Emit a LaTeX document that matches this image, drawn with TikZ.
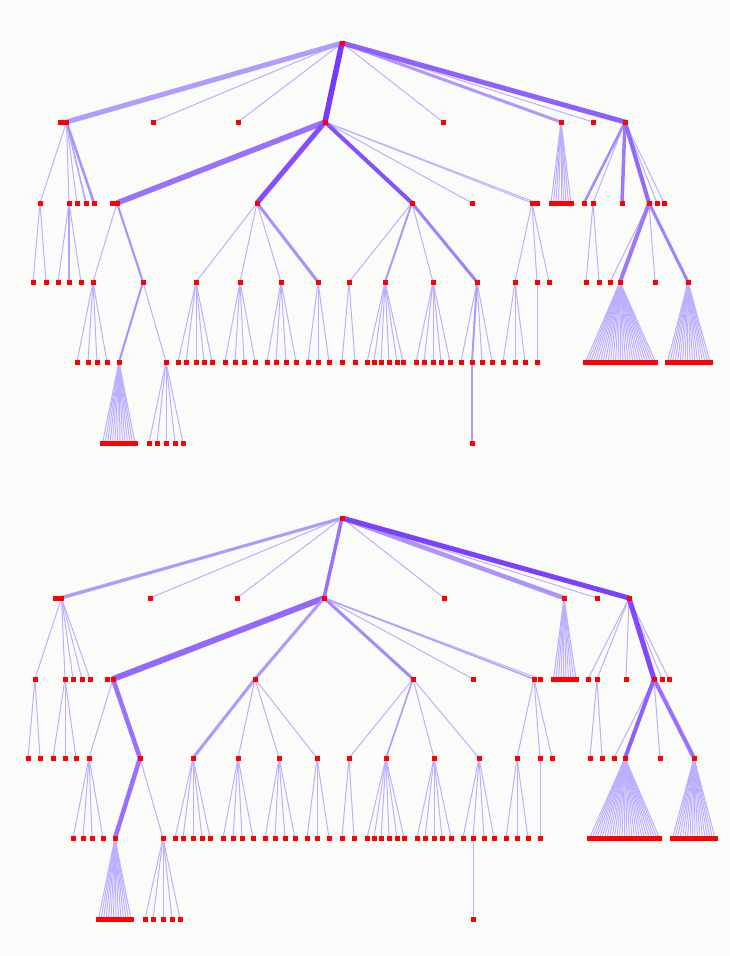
\documentclass[tikz,border=0pt]{standalone}
\usepackage{xcolor}
\usepackage{tikz}

\definecolor{paper}{RGB}{250,252,250}
\definecolor{linkhi}{RGB}{110,40,255}
\definecolor{linklo}{RGB}{205,200,255}

\pgfdeclarelayer{links}
\pgfsetlayers{links,main}

% children of #1, named #2<i>, on row #3, at the x values #4;
% their links are collected in \linklist and drawn later
\gdef\linklist{}
\newcommand{\fanout}[4]{%
  \foreach \x [count=\i] in {#4} {
    \node[pt] (#2\i) at (\x,#3) {};
    \xdef\linklist{\unexpanded\expandafter{\linklist}%
      \noexpand\draw[ln] (#1.center) -- (#2\i.center);}
  }}

\begin{document}
\begin{tikzpicture}[x=1pt, y=-1pt,
    pt/.style={rectangle, fill=red, inner sep=0pt, minimum size=5pt},
    lk/.style 2 args={line width=#1pt, draw=linkhi!#2!linklo},
    ln/.style={lk={1}{16}}]

  % upper tree
  \node[pt] (a0) at (342,43) {};
  \fanout{a0}{a1-}{122}{60.5,63.5,66.5,153,238,325,443,561,593,625}

  \fanout{a1-3}{a2a-}{203}{40,69,77,86,94}
  \fanout{a1-6}{a2f-}{203}{112,117,257,412,472,532,537}
  \fanout{a1-8}{a2h-}{203}{551,553.5,...,571}
  \fanout{a1-10}{a2j-}{203}{584,593,622,649,657,664}

  \fanout{a2a-1}{a3a-}{282}{33,46}
  \fanout{a2a-2}{a3b-}{282}{58,69,81}
  \fanout{a2f-2}{a3g-}{282}{93,143}
  \fanout{a2f-3}{a3h-}{282}{196,240,281,318}
  \fanout{a2f-4}{a3i-}{282}{349,385,433,477}
  \fanout{a2f-6}{a3k-}{282}{515,537,549}
  \fanout{a2j-2}{a3o-}{282}{586,599}
  \fanout{a2j-4}{a3q-}{282}{610,620,655,688}

  \fanout{a3g-1}{a4a-}{362}{77,88,97,107}
  \fanout{a3g-2}{a4b-}{362}{119,166}
  \fanout{a3h-1}{a4c-}{362}{178,186,196,204,212}
  \fanout{a3h-2}{a4d-}{362}{225,235,244,255}
  \fanout{a3h-3}{a4e-}{362}{267,276,286,296}
  \fanout{a3h-4}{a4f-}{362}{308,318,329}
  \fanout{a3i-1}{a4g-}{362}{342,355}
  \fanout{a3i-2}{a4h-}{362}{367,374,381,389,397,403}
  \fanout{a3i-3}{a4i-}{362}{416,424,433,441,450}
  \fanout{a3i-4}{a4j-}{362}{461,472,482,492}
  \fanout{a3k-1}{a4k-}{362}{503,515,525}
  \fanout{a3k-2}{a4l-}{362}{537}
  \fanout{a3q-2}{a4m-}{362}{585.5,588,...,655.5}
  \fanout{a3q-4}{a4n-}{362}{667.5,670,...,710}

  \fanout{a4b-1}{a5a-}{443}{102.5,105,...,135.5}
  \fanout{a4b-2}{a5b-}{443}{149,157,166,175,183}
  \fanout{a4j-2}{a5c-}{443}{472}

  % lower tree
  \node[pt] (b0) at (342,518) {};
  \fanout{b0}{b1-}{598}{55.5,58.5,61.5,150,237,324,444,564,597,629}

  \fanout{b1-3}{b2a-}{679}{35,65,73,82,90}
  \fanout{b1-6}{b2f-}{679}{107,113,255,413,473,534,540}
  \fanout{b1-8}{b2h-}{679}{553.5,556,...,576}
  \fanout{b1-10}{b2j-}{679}{588,597,626,654,662,669}

  \fanout{b2a-1}{b3a-}{758}{28,40}
  \fanout{b2a-2}{b3b-}{758}{53,65,76}
  \fanout{b2f-2}{b3g-}{758}{89,140}
  \fanout{b2f-3}{b3h-}{758}{193,238,279,317}
  \fanout{b2f-4}{b3i-}{758}{349,386,434,479}
  \fanout{b2f-6}{b3k-}{758}{517,540,552}
  \fanout{b2j-2}{b3o-}{758}{590,602}
  \fanout{b2j-4}{b3q-}{758}{614,625,660,694}

  \fanout{b3g-1}{b4a-}{838}{73,83,92,103}
  \fanout{b3g-2}{b4b-}{838}{115,163}
  \fanout{b3h-1}{b4c-}{838}{175,183,193,202,210}
  \fanout{b3h-2}{b4d-}{838}{223,233,242,253}
  \fanout{b3h-3}{b4e-}{838}{265,275,285,295}
  \fanout{b3h-4}{b4f-}{838}{307,317,329}
  \fanout{b3i-1}{b4g-}{838}{342,354}
  \fanout{b3i-2}{b4h-}{838}{367,374,381,389,397,404}
  \fanout{b3i-3}{b4i-}{838}{417,425,434,442,451}
  \fanout{b3i-4}{b4j-}{838}{463,473,484,494}
  \fanout{b3k-1}{b4k-}{838}{506,517,528}
  \fanout{b3k-2}{b4l-}{838}{540}
  \fanout{b3q-2}{b4m-}{838}{589.5,592,...,659.5}
  \fanout{b3q-4}{b4n-}{838}{672.5,675,...,715}

  \fanout{b4b-1}{b5a-}{919}{98.5,101,...,132.5}
  \fanout{b4b-2}{b5b-}{919}{145,153,163,172,180}
  \fanout{b4j-2}{b5c-}{919}{473}

  \begin{pgfonlayer}{links}
    \fill[paper] (0,0) rectangle (730,956);
    \linklist

    % heavier links on top of the thin ones
    \draw[lk={5}{28}] (a0.center) -- (a1-3.center);
    \draw[lk={5.5}{90}] (a0.center) -- (a1-6.center);
    \draw[lk={3}{30}] (a0.center) -- (a1-8.center);
    \draw[lk={5}{65}] (a0.center) -- (a1-10.center);
    \draw[lk={1.5}{22}] (a1-3.center) -- (a2a-4.center);
    \draw[lk={2.5}{35}] (a1-3.center) -- (a2a-5.center);
    \draw[lk={5.5}{55}] (a1-6.center) -- (a2f-2.center);
    \draw[lk={5}{77}] (a1-6.center) -- (a2f-3.center);
    \draw[lk={4}{75}] (a1-6.center) -- (a2f-4.center);
    \draw[lk={2.5}{40}] (a1-10.center) -- (a2j-1.center);
    \draw[lk={3.5}{50}] (a1-10.center) -- (a2j-3.center);
    \draw[lk={4}{60}] (a1-10.center) -- (a2j-4.center);
    \draw[lk={1.5}{25}] (a2a-2.center) -- (a3b-2.center);
    \draw[lk={2}{35}] (a2f-2.center) -- (a3g-2.center);
    \draw[lk={3}{35}] (a2f-3.center) -- (a3h-4.center);
    \draw[lk={2}{30}] (a2f-4.center) -- (a3i-2.center);
    \draw[lk={3}{45}] (a2f-4.center) -- (a3i-4.center);
    \draw[lk={4}{50}] (a2j-4.center) -- (a3q-2.center);
    \draw[lk={3}{45}] (a2j-4.center) -- (a3q-4.center);
    \draw[lk={2}{35}] (a3g-2.center) -- (a4b-1.center);
    \draw[lk={2}{30}] (a3i-4.center) -- (a4j-2.center);
    \draw[lk={2}{30}] (a4j-2.center) -- (a5c-1.center);

    \draw[lk={3}{30}] (b0.center) -- (b1-3.center);
    \draw[lk={3.5}{55}] (b0.center) -- (b1-6.center);
    \draw[lk={4.5}{33}] (b0.center) -- (b1-8.center);
    \draw[lk={5}{85}] (b0.center) -- (b1-10.center);
    \draw[lk={6}{60}] (b1-6.center) -- (b2f-2.center);
    \draw[lk={3}{30}] (b1-6.center) -- (b2f-3.center);
    \draw[lk={3}{40}] (b1-6.center) -- (b2f-4.center);
    \draw[lk={1.5}{25}] (b1-6.center) -- (b2f-6.center);
    \draw[lk={5}{80}] (b1-10.center) -- (b2j-4.center);
    \draw[lk={4.5}{55}] (b2f-2.center) -- (b3g-2.center);
    \draw[lk={3}{30}] (b2f-3.center) -- (b3h-1.center);
    \draw[lk={1.5}{30}] (b2f-4.center) -- (b3i-2.center);
    \draw[lk={4}{65}] (b2j-4.center) -- (b3q-2.center);
    \draw[lk={4}{55}] (b2j-4.center) -- (b3q-4.center);
    \draw[lk={4.5}{55}] (b3g-2.center) -- (b4b-1.center);
  \end{pgfonlayer}
\end{tikzpicture}
\end{document}
